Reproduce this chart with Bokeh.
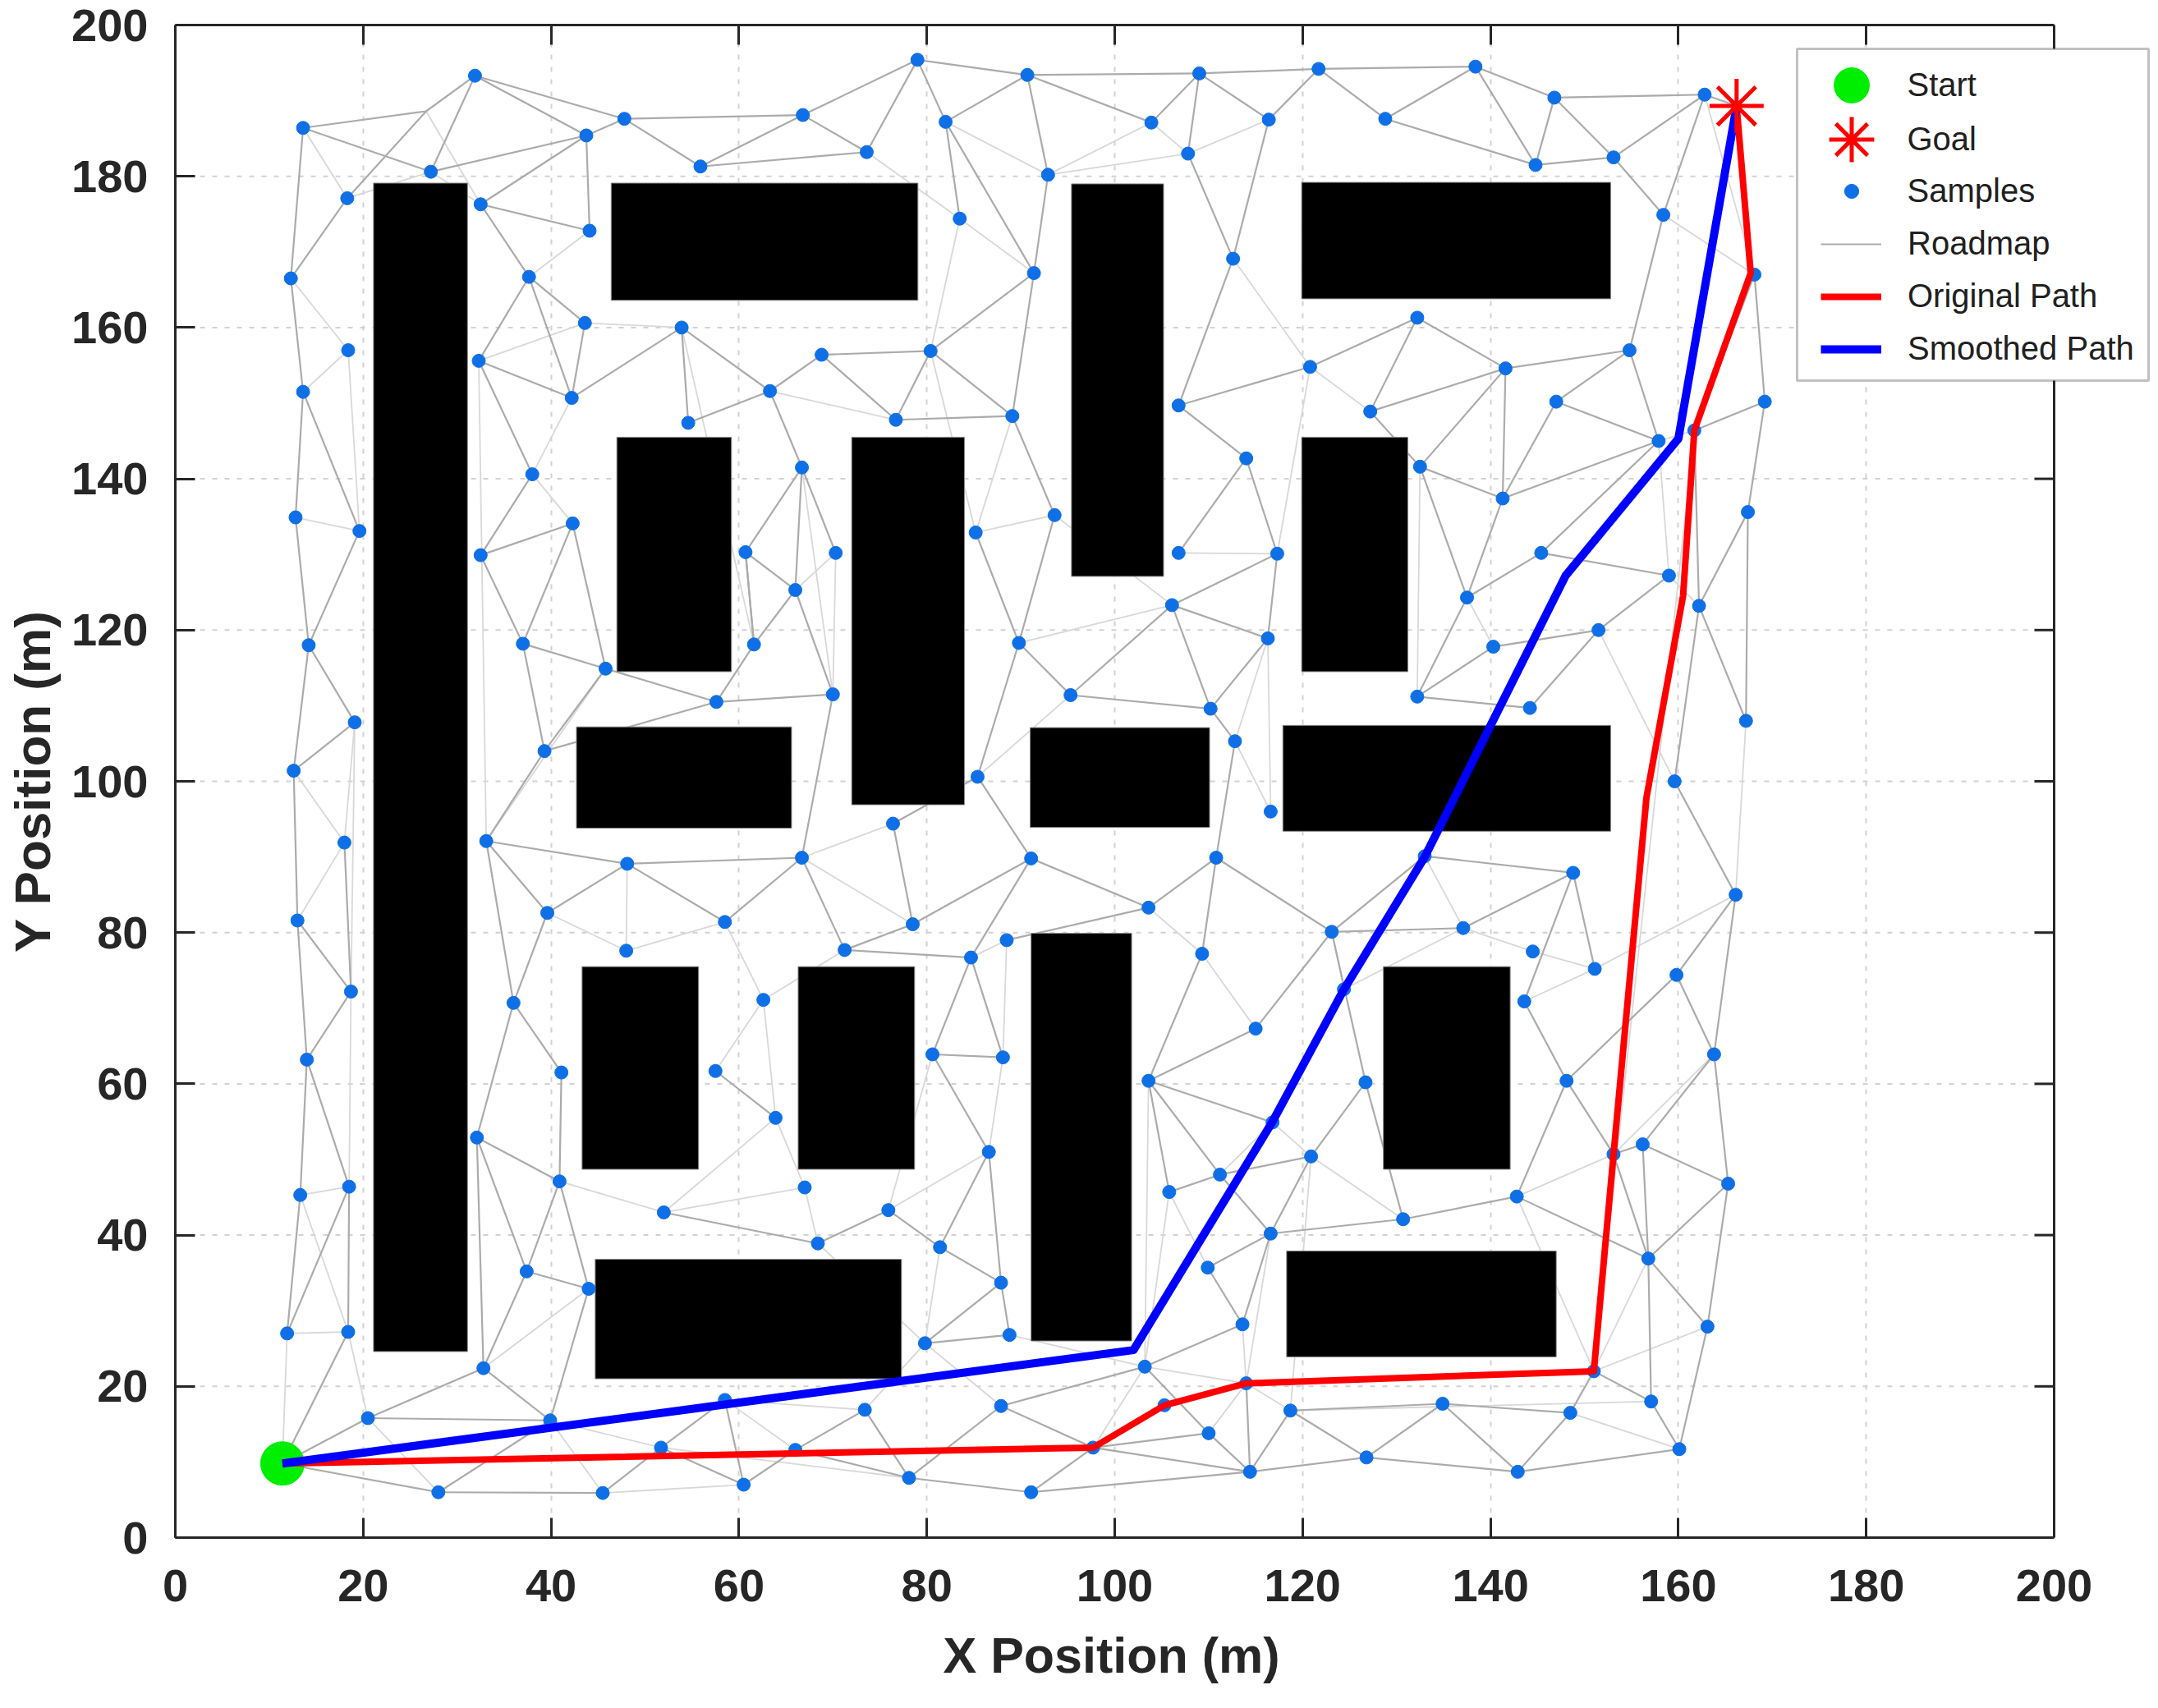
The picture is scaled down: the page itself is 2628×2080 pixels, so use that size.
from bokeh.plotting import figure
from bokeh.models import (Range1d, FixedTicker, LinearAxis, ColumnDataSource, Legend, LegendItem,
                          BoxAnnotation, Title)
from bokeh.core.properties import value
from bokeh.embed import file_html
from bokeh.resources import INLINE

# ---------- data ----------
ticks = [0, 20, 40, 60, 80, 100, 120, 140, 160, 180, 200]

start_x, start_y = [11.4], [9.8]
goal_x, goal_y = [166.2], [189.3]

names_a = "A1 A2 A3 A4 A5 A6 A7 A8 A9 A10 A11 A12 A13 A14 A15 A16 A17 A18 A19 A20 A21 A22 A23 A24 A25 A26 A27 A28".split()
xs_a = [31.9, 13.6, 27.2, 43.75, 47.8, 66.8, 55.9, 18.3, 32.5, 44.1, 12.3, 37.65, 43.6, 53.9, 18.4, 32.3, 13.6, 42.2, 54.6, 63.3, 38, 66.7, 12.8, 19.6, 42.3, 32.5, 60.7, 66]
ys_a = [193.3, 186.4, 180.6, 185.4, 187.6, 188.1, 181.3, 177.1, 176.3, 172.8, 166.5, 166.7, 160.6, 160, 157, 155.6, 151.5, 150.7, 147.4, 151.6, 140.6, 141.5, 134.9, 133.1, 134.1, 129.9, 130.3, 125.3]

names_b = "B1 B2 B3 B4 B5 B6 B7 B8 B9 B10 B11 B12 B13 B14 B15 B16 B17 B18 B19 B20 B22 B23 B24 B25 B26 B28".split()
xs_b = [79, 90.7, 109, 121.7, 82, 73.6, 103.9, 116.4, 107.8, 92.9, 83.5, 91.4, 112.6, 68.8, 80.4, 120.8, 76.7, 89.1, 106.8, 114, 70.3, 85.2, 93.6, 106.8, 117.3, 106.1]
ys_b = [195.4, 193.4, 193.6, 194.2, 187.2, 183.2, 187.1, 187.5, 183, 180.2, 174.4, 167.2, 169.1, 156.4, 156.9, 154.8, 147.8, 148.3, 149.7, 142.7, 130.2, 132.9, 135.2, 130.2, 130.1, 123.3]

names_c = "C2 C3 C4 C5 C6 C7 C8 C9 C10 C11 C12 C13 C14 C15 C16 C17 C18 C19 C20 C21 C22 C23 C24".split()
xs_c = [138.4, 146.8, 162.8, 128.8, 144.8, 153.1, 158.4, 168.1, 132.2, 141.6, 154.8, 127.2, 147, 157.9, 161.7, 169.2, 132.5, 141.3, 145.4, 167.4, 137.5, 159, 162.2]
ys_c = [194.5, 190.4, 190.8, 187.6, 181.5, 182.5, 174.9, 167, 161.3, 154.6, 157, 148.9, 150.2, 145, 146.4, 150.2, 141.6, 137.4, 130.2, 135.6, 124.3, 127.2, 123.2]

names_d = "D1 D2 D3 D4 D5 D6 D7 D8 D9 D10 D11 D12 D13 D14 D15 D16 D17 D18 D19 D20 D21 D22".split()
xs_d = [14.2, 19.1, 12.6, 18, 13, 18.7, 14, 37, 45.8, 39.3, 57.6, 61.6, 33.1, 48.1, 66.7, 39.6, 58.5, 48, 36, 62.6, 41.1, 57.5]
ys_d = [118, 107.8, 101.4, 91.9, 81.6, 72.2, 63.2, 118.2, 114.9, 104, 110.5, 118.1, 92.1, 89.1, 89.9, 82.6, 81.4, 77.6, 70.7, 71.1, 61.5, 61.7]

names_e = "E1 E7 E8 E9 E10 E11 E12 E13 E14 E16 E17 E18 E19 E20 E21 E22 E23 E24 E25 E26 E27 E28".split()
xs_e = [70, 89.8, 116.3, 95.3, 110.2, 112.8, 85.4, 116.6, 76.4, 91.1, 110.8, 103.6, 123.1, 78.5, 71.25, 88.5, 84.7, 109.3, 115, 80.6, 88.1, 103.6]
ys_e = [111.5, 118.3, 118.9, 111.4, 109.6, 105.3, 100.6, 96, 94.4, 89.8, 89.9, 83.3, 80.1, 81.1, 77.7, 79, 76.7, 77.2, 67.3, 63.9, 63.5, 60.4]

names_f = "F2 F3 F4 F5 F6 F7 F8 F9 F11 F12 F13 F14 F15 P1 P2".split()
xs_f = [151.5, 140.3, 132.2, 144.2, 167.2, 159.6, 148.8, 166.1, 137.1, 144.5, 151.1, 143.6, 159.8, 133, 124.4]
ys_f = [120, 117.8, 111.2, 109.7, 108, 100, 87.9, 85, 80.6, 77.5, 75.2, 70.9, 74.4, 90.1, 72.5]

names_g = "G2 G3 G4 G6 G8 G9 G11 G12 G13 G14 G15 G16 G17 G18 G19 G20 G21 G22 G23".split()
xs_g = [13.3, 18.5, 32.1, 40.9, 63.9, 52, 37.4, 44, 11.9, 18.4, 32.8, 20.5, 39.9, 58.5, 51.7, 28, 45.5, 60.5, 66]
ys_g = [45.3, 46.4, 52.9, 47.1, 55.5, 43, 35.2, 32.9, 27, 27.2, 22.4, 15.8, 15.5, 18.2, 11.9, 6, 5.9, 7, 11.6]

names_h = "H4 H5 H6 H7 H8 H9 H10 H11 H12 H13 H14 H15 H16 H17 H18 H19 H20 H21 H22 H23 H24 H25 H26 H27 H28 H29".split()
xs_h = [86.6, 67, 75.9, 68.4, 81.4, 87.9, 88.8, 79.8, 73.4, 87.9, 78.1, 91.1, 97.7, 103.2, 105.3, 110, 114.4, 114, 113.6, 109.9, 116.6, 105.8, 111.2, 116.8, 120.9, 118.7]
ys_h = [51, 46.3, 43.3, 38.9, 38.4, 33.7, 26.8, 25.7, 16.9, 17.4, 7.9, 6, 11.9, 22.6, 17.5, 13.8, 8.7, 20.4, 28.2, 35.7, 40.2, 45.7, 48, 54.9, 50.4, 16.8]

names_i = "I1 I2 I3 I4 I5 I6 I7 I8 I9 I10 I11 I12 I13 I14 I15 I16 I17".split()
xs_i = [126.7, 148.1, 163.8, 156.2, 165.3, 153.1, 142.8, 130.7, 156.8, 163.1, 151, 157.1, 134.9, 148.5, 126.8, 142.9, 160.1]
ys_i = [60.2, 60.4, 63.9, 52, 46.8, 50.7, 45.1, 42.1, 36.9, 27.9, 22, 18, 17.7, 16.5, 10.6, 8.7, 11.7]

# a bend of the roadmap that carries no sample marker
bend_name, bend_x, bend_y = ["W1"], [26.7], [188.6]

edges_strong = """
W1-A2 W1-A1 W1-A8 A1-A3 A1-A4 A1-A5 A2-A3 A2-A11 A3-A4 A4-A5 A4-A9 A4-A10 A5-A6 A5-A7 A7-A6 A7-B6 A8-A11
A9-A10 A9-A12 A11-A17 A12-A13 A12-A16 A12-A18 A13-A18 A14-A18 A14-A19 A14-A20 A16-A21 A16-A18 A17-A23 A17-A24
A19-A20 A20-A22 A21-A26 A22-A27 A23-D1 A24-D1 A25-A26 A25-D8 A25-D9 A26-D8 A27-A28 A27-D12 A28-D12 A28-A22
A22-B22 A20-B14 A6-B1 A6-B6 B6-B1 B1-B2 B1-B5 B5-B2 B2-B3 B2-B7 B2-B10 B3-B7 B3-B9 B3-B8 B3-B4 B4-B8 B5-B12
B5-B11 B10-B12 B9-B13 B8-B13 B12-B15 B12-B18 B13-B19 B14-B15 B14-B17 B15-B17 B15-B18 B17-B18 B18-B24 B19-B16
B19-B20 B20-B25 B20-B26 B23-E7 B24-E7 A28-E1 B28-B26 B28-E8 B28-E9 B28-E10 E8-B26 E8-E10 E10-E11 E11-E17
E10-E9 E7-E12 E7-E9 E12-E16 E14-E12 E14-E20 D15-E1 D15-D14 D15-D17 D15-E21 D11-D12 D11-E1 D11-D10 D11-D9
D12-A27 D1-D3 D1-D2 D3-D5 D5-D7 D5-D6 D4-D6 D7-D6 D7-G3 D7-G2 D3-D2 D8-D10 D8-D9 D10-D13 D10-D9 D13-D14
D13-D16 D13-D19 D14-D16 D14-D17 D16-D19 D19-D21 D19-G4 D21-G6 D22-G8 G4-G6 G4-G11 G4-G15 G6-G11 G6-G12
G11-G12 G11-G15 G12-G17 G15-G16 G15-G17 G16-G17 G13-G3 G2-G13 G3-G14 G20-G21 G20-G17 G19-G21 G19-G18 G19-G22
G18-G22 G22-G23 G23-H12 G23-H14 H12-H14 H14-H13 H14-H15 H13-H16 H13-H17 H15-H16 H15-H20 H16-H20 H16-H19
H19-H17 H19-H20 H20-H21 H17-H22 H22-H24 H22-H23 H24-H23 H24-H28 H26-E28 E28-H25 H25-H26 H26-H24 H26-H28
H24-I8 H28-I1 E28-E24 E28-E25 E28-H27 E19-E17 E19-E25 E19-F11 E19-I1 E18-E17 E18-E16 E18-E22 E17-E24 E16-E20
E16-E23 E20-E21 E21-E23 E23-E26 E23-E27 E26-E27 E26-H4 H4-H8 H4-H9 H8-H6 H8-H9 H6-H7 H7-G9 H11-H9 H11-H10
H9-H10 I1-I8 I8-I7 I7-I2 F14-I2 F14-F8 F8-F11 F8-F13 P1-F8 P1-E19 F9-F7 F9-F15 F9-I3 F6-C24 F6-C21 F7-C24
F2-F5 F2-F3 F2-C23 F4-F3 F4-F5 F4-C22 I3-I5 I3-I4 I2-I6 I4-I5 I4-I9 I4-I6 I6-I9 I5-I9 I5-I10 I9-I10 I9-I7
I10-I17 I11-I12 I11-I14 I14-I13 I14-I16 I13-I15 I13-I16 I15-I16 I16-I17 I15-H20 H29-I13 H29-I15 H29-H20 I12-I17
I9-I12 I2-F15 B4-C2 B4-C5 C2-C5 C2-C3 C2-C6 C3-C4 C3-C6 C3-C7 C5-C6 C6-C7 C7-C4 C7-C8 C4-C8 C4-T C8-C12
C12-C11 C12-C14 C12-C15 C11-C10 C11-C13 C11-C18 C11-C19 C10-C13 B16-C10 C13-C18 C14-C15 C14-C19 C15-C19 C15-C20
C16-C17 C16-C24 C17-C21 C17-C9 C21-C24 C9-C16 C18-C19 C18-C22 C19-C22 C20-C22 C20-C23 F15-I3 G16-S G14-S G20-S
"""

edges_light = """
W1-A9 A2-A8 A8-A3 A3-A9 A10-A12 A11-A15 A15-A17 A15-A24 A18-A21 A21-A25 A23-A24 A13-A14 A13-A16 A14-D12
A16-D13 A20-B17 B5-B10 B6-B11 B7-B10 B7-B9 B9-B10 B8-B9 B11-B12 B11-B15 B13-B16 B15-B23 B18-B23
B24-B23 B24-B28 B25-B26 B16-B26 A28-B22 B22-E1 A22-E1 E7-B28 E8-E11 E8-E13 E11-E13 E9-E12 E14-D15 D15-E20
D2-D4 D4-D5 D4-D3 D6-D2 D9-D13 D14-D18 D16-D18 D17-D18 D17-D20 D20-D22 D20-E21 D20-G8 G6-G9 G12-G15 G16-G14
G16-G20 G13-G14 G2-G3 G2-G14 G3-D6 G13-S G17-G19 G17-G21 G21-G22 G18-H12 G18-G23 H12-H11 H13-H11 H14-H12
H16-H17 H19-H21 H17-H21 H22-H21 H25-H23 H25-H17 E28-H17 E25-E24 E18-E24 E22-E27 E23-E22 E26-H6 E27-H4
H5-H7 G9-H5 G8-H5 H7-H11 H10-H17 H8-H11 H4-H6 G8-G9 F14-F13 P1-F11 F11-F12 F12-F13 F11-P2 F13-F9 F9-F6
F2-F7 C18-F4 F3-C22 I7-I6 I7-I11 I9-I11 I10-I11 I11-C16 I14-I17 I6-I3 I12-H29 C8-C9 C4-C9
B16-C13 C15-C23 C16-C15 C23-C24 G19-H14 E19-P2 H27-H28 H28-H29 H21-I15 H26-H27 I8-H28 H24-H21
"""

obst_left = [21.1, 46.4, 95.4, 119.9, 47, 72, 119.9, 42.7, 91, 117.9, 43.3, 66.3, 91.1, 128.6, 44.7, 118.3]
obst_right = [31.1, 79.05, 105.2, 152.8, 59.2, 84, 131.2, 65.6, 110.1, 152.8, 55.7, 78.7, 101.8, 142.1, 77.3, 147]
obst_bottom = [24.6, 163.6, 127.1, 163.8, 114.5, 96.9, 114.5, 93.8, 93.9, 93.4, 48.7, 48.7, 26, 48.7, 21, 23.9]
obst_top = [179.1, 179.1, 179, 179.2, 145.5, 145.5, 145.5, 107.2, 107.1, 107.4, 75.5, 75.5, 79.9, 75.5, 36.8, 37.9]

orig_x = [11.4, 97.7, 105.3, 114, 151, 153.1, 156.6, 160.5, 161.7, 167.7, 166.2]
orig_y = [9.8, 11.9, 17.5, 20.4, 22, 50.7, 97.8, 124.5, 146.4, 167.2, 189.3]
smooth_x = [11.4, 102, 116.8, 124.4, 133, 148, 160, 166.2]
smooth_y = [9.8, 24.8, 55, 72.5, 90, 127.2, 145.3, 189.3]

legend_labels = ["Start", "Goal", "Samples", "Roadmap", "Original Path", "Smoothed Path"]

# ---------- lookups built from the lists above ----------
all_names = names_a + names_b + names_c + names_d + names_e + names_f + names_g + names_h + names_i
all_x = xs_a + xs_b + xs_c + xs_d + xs_e + xs_f + xs_g + xs_h + xs_i
all_y = ys_a + ys_b + ys_c + ys_d + ys_e + ys_f + ys_g + ys_h + ys_i
lookup = dict(zip(all_names, zip(all_x, all_y)))
lookup["S"] = (start_x[0], start_y[0])
lookup["T"] = (goal_x[0], goal_y[0])
lookup[bend_name[0]] = (bend_x[0], bend_y[0])


def edge_source(text):
    x0, y0, x1, y1 = [], [], [], []
    for e in text.split():
        a, b = e.split("-")
        x0.append(lookup[a][0]); y0.append(lookup[a][1])
        x1.append(lookup[b][0]); y1.append(lookup[b][1])
    return ColumnDataSource(dict(x0=x0, y0=y0, x1=x1, y1=y1))


# ---------- layout, in pixels of the 2628x2080 picture ----------
FL, FR, FT, FB = 213, 2501, 30, 1872      # the axes box
W, H = 2620, 2080                         # the frame runs on to W so that the legend can stick out of the box
FONT = "Liberation Sans"
INK = "#262626"
x_end = ticks[-1] * (W - FL) / (FR - FL)

p = figure(frame_width=W - FL, frame_height=FB - FT, output_backend="svg", toolbar_location=None,
           x_range=Range1d(0, x_end), y_range=Range1d(0, ticks[-1]),
           min_border_left=FL, min_border_right=0,
           min_border_top=FT, min_border_bottom=H - FB,
           y_axis_label="Y Position (m)")
p.background_fill_color = "white"
p.border_fill_color = "white"
p.outline_line_color = None

for ax in [p.xaxis[0], p.yaxis[0]]:
    ax.ticker = FixedTicker(ticks=ticks)
    ax.axis_line_color = INK
    ax.axis_line_width = 3
    ax.major_tick_in = 24
    ax.major_tick_out = 0
    ax.major_tick_line_color = INK
    ax.major_tick_line_width = 3
    ax.minor_tick_line_color = None
    ax.major_label_text_font = FONT
    ax.major_label_text_font_style = "bold"
    ax.major_label_text_font_size = "56px"
    ax.major_label_text_color = INK
    ax.axis_label_text_font = FONT
    ax.axis_label_text_font_style = "bold"
    ax.axis_label_text_font_size = "62px"
    ax.axis_label_text_color = INK
p.xaxis[0].bounds = (ticks[0], ticks[-1])
p.xaxis[0].major_label_standoff = 39
p.yaxis[0].major_label_standoff = 33
p.yaxis[0].axis_label_standoff = 10

# the x label is centred under the box, not under the longer frame
x_title = Title(text="X Position (m)", align="left", vertical_align="top", offset=935, standoff=58,
                text_font=FONT, text_font_style="bold", text_font_size="61px", text_color=INK)
p.add_layout(x_title, "below")

top_axis = LinearAxis(ticker=FixedTicker(ticks=ticks), bounds=(ticks[0], ticks[-1]),
                      major_label_overrides={t: "" for t in ticks},
                      major_label_standoff=0, major_tick_in=24, major_tick_out=0,
                      major_tick_line_color=INK, major_tick_line_width=3,
                      minor_tick_line_color=None, axis_line_color=INK, axis_line_width=3)
p.add_layout(top_axis, "above")

p.xgrid[0].ticker = FixedTicker(ticks=ticks[1:-1])
p.xgrid[0].grid_line_color = "#d2d2d2"
p.xgrid[0].grid_line_width = 2
p.xgrid[0].grid_line_dash = "6 9"
p.ygrid[0].visible = False
inner = ticks[1:-1]
p.segment([ticks[0]] * len(inner), inner, [ticks[-1]] * len(inner), inner,
          line_color="#d2d2d2", line_width=2, line_dash="6 9")

road_light = p.segment("x0", "y0", "x1", "y1", source=edge_source(edges_light),
                       line_color="#d8d8d8", line_width=1.8)
road = p.segment("x0", "y0", "x1", "y1", source=edge_source(edges_strong),
                 line_color="#ababab", line_width=2.2)
p.quad(left=obst_left, right=obst_right, bottom=obst_bottom, top=obst_top,
       fill_color="black", line_color="#8a8a8a", line_width=1)
samples = p.scatter(all_x, all_y, size=16, marker="circle", fill_color="#0f6fe6", line_color="#0f6fe6")
start = p.scatter(start_x, start_y, size=53, marker="circle", fill_color="#00ee00", line_color="#00ee00")
orig = p.line(orig_x, orig_y, line_color="#ff0000", line_width=8, line_join="round")
smooth = p.line(smooth_x, smooth_y, line_color="#0000ff", line_width=10, line_join="round")
goal = p.scatter(goal_x, goal_y, size=66, marker="asterisk", line_color="#ff0000", line_width=5)

# right side of the axes box, with its inward ticks
tick_len = 24 * (x_end / (W - FL))
p.segment([ticks[-1]], [ticks[0]], [ticks[-1]], [ticks[-1]], line_color=INK, line_width=3)
p.segment([ticks[-1]] * len(inner), inner, [ticks[-1] - tick_len] * len(inner), inner,
          line_color=INK, line_width=3)

box = BoxAnnotation(left=2188, right=2616, top=59, bottom=463,
                    left_units="canvas", right_units="canvas", top_units="canvas", bottom_units="canvas",
                    fill_color="white", fill_alpha=1, line_color="#333333", line_width=3)
p.add_layout(box)

MARK_X, TEXT_X = 2254, 2323


def key(renderer, label, size, cy, thick=None):
    gw = size if thick is None else 74
    gh = size if thick is None else 42
    leg = Legend(items=[LegendItem(label=value(label), renderers=[renderer])],
                 location=(MARK_X - gw / 2 - FL, FB - (cy + gh / 2)),
                 padding=0, margin=0, spacing=0, glyph_width=gw, glyph_height=gh,
                 label_height=gh, label_standoff=int(TEXT_X - MARK_X - gw / 2),
                 label_text_font=FONT, label_text_font_size="40px", label_text_color="#202020",
                 label_text_baseline="middle",
                 border_line_color=None, background_fill_alpha=0)
    p.add_layout(leg)


key(start, legend_labels[0], 107, 103)
key(goal, legend_labels[1], 137, 169)
key(samples, legend_labels[2], 43, 233)
key(road, legend_labels[3], 0, 298, thick=True)
key(orig, legend_labels[4], 0, 362, thick=True)
key(smooth, legend_labels[5], 0, 426, thick=True)

open("out.html", "w").write(file_html(p, INLINE))
